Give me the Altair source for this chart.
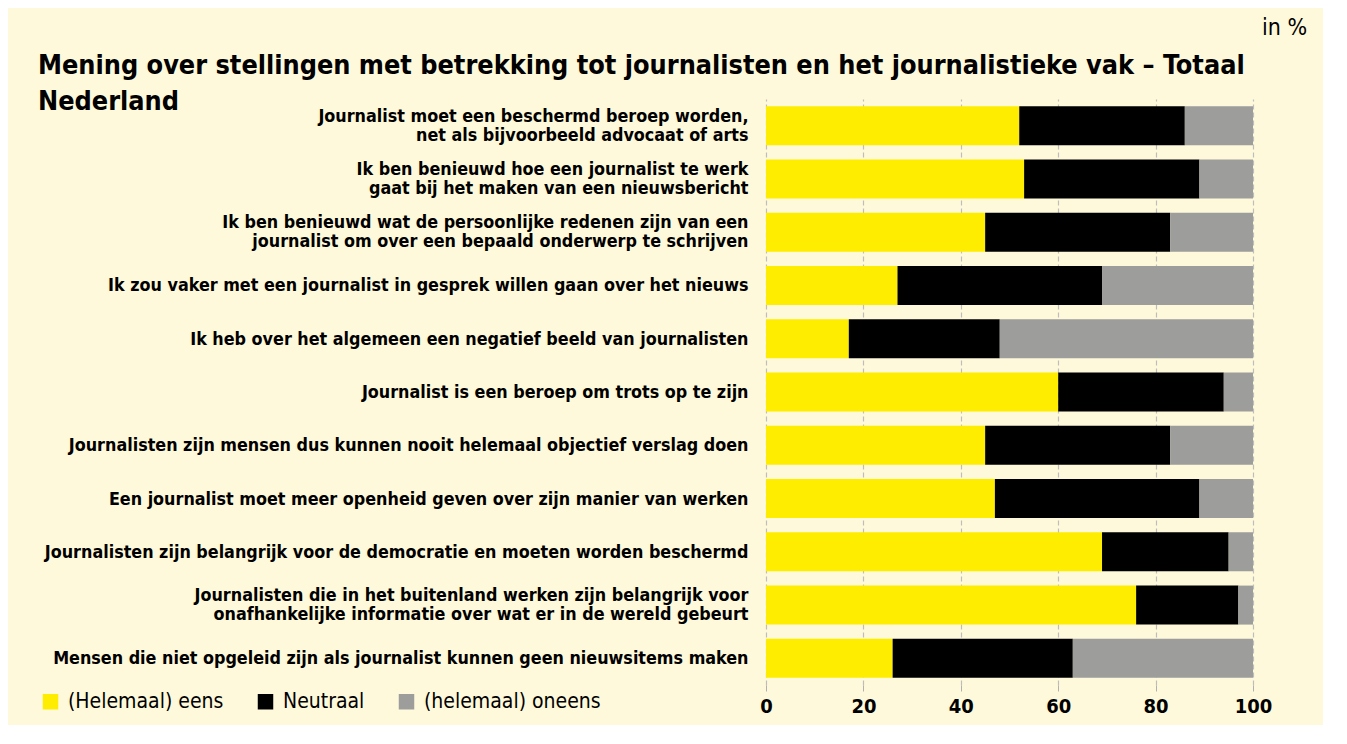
import altair as alt
import pandas as pd

stellingen = [
    "Journalist moet een beschermd beroep worden,|net als bijvoorbeeld advocaat of arts",
    "Ik ben benieuwd hoe een journalist te werk|gaat bij het maken van een nieuwsbericht",
    "Ik ben benieuwd wat de persoonlijke redenen zijn van een|journalist om over een bepaald onderwerp te schrijven",
    "Ik zou vaker met een journalist in gesprek willen gaan over het nieuws",
    "Ik heb over het algemeen een negatief beeld van journalisten",
    "Journalist is een beroep om trots op te zijn",
    "Journalisten zijn mensen dus kunnen nooit helemaal objectief verslag doen",
    "Een journalist moet meer openheid geven over zijn manier van werken",
    "Journalisten zijn belangrijk voor de democratie en moeten worden beschermd",
    "Journalisten die in het buitenland werken zijn belangrijk voor|onafhankelijke informatie over wat er in de wereld gebeurt",
    "Mensen die niet opgeleid zijn als journalist kunnen geen nieuwsitems maken",
]
eens = [52, 53, 45, 27, 17, 60, 45, 47, 69, 76, 26]
neutraal = [34, 36, 38, 42, 31, 34, 38, 42, 26, 21, 37]
oneens = [14, 11, 17, 31, 52, 6, 17, 11, 5, 3, 37]

categorieen = ["(Helemaal) eens", "Neutraal", "(helemaal) oneens"]
kleuren = ["#FFED00", "#000000", "#9D9D9C"]

rows = []
for i, s in enumerate(stellingen):
    for j, (cat, vals) in enumerate(zip(categorieen, [eens, neutraal, oneens])):
        rows.append({"stelling": s, "antwoord": cat, "waarde": vals[i], "volgorde": j})
df = pd.DataFrame(rows)

FONT = "DejaVu Sans Condensed"

bars = alt.Chart(df).mark_bar(size=39).encode(
    x=alt.X(
        "waarde:Q",
        stack="zero",
        scale=alt.Scale(domain=[0, 100], nice=False),
        axis=alt.Axis(
            values=[0, 20, 40, 60, 80, 100],
            title=None,
            grid=True,
            gridColor="#BDBDBD",
            gridDash=[5, 3],
            gridWidth=1.2,
            domain=False,
            ticks=True,
            tickColor="#B0B0B0",
            tickSize=6,
            labelFont=FONT,
            labelFontSize=20,
            labelFontWeight="bold",
            labelColor="#000000",
            labelPadding=5,
            labelFlush=False,
        ),
    ),
    y=alt.Y(
        "stelling:N",
        sort=stellingen,
        scale=alt.Scale(paddingInner=0.27, paddingOuter=0.135),
        axis=alt.Axis(
            title=None,
            domain=False,
            ticks=False,
            labelExpr="split(datum.label, '|')",
            labelOffset=alt.ExprRef("indexof(datum.value, '|') >= 0 ? -9 : 1"),
            labelFont=FONT,
            labelFontSize=17.8,
            labelFontWeight="bold",
            labelColor="#000000",
            labelLineHeight=19,
            labelLimit=900,
            labelPadding=18,
        ),
    ),
    color=alt.Color(
        "antwoord:N",
        sort=categorieen,
        scale=alt.Scale(domain=categorieen, range=kleuren),
        legend=alt.Legend(
            title=None,
            orient="none",
            direction="horizontal",
            legendX=-726,
            legendY=592,
            symbolType="square",
            symbolSize=240,
            symbolStrokeWidth=0,
            labelFont=FONT,
            labelFontSize=21,
            labelColor="#000000",
            labelOffset=7,
            columnPadding=31,
            labelLimit=400,
        ),
    ),
    order=alt.Order("volgorde:Q", sort="ascending"),
)

note = alt.Chart(pd.DataFrame({"t": ["in %"]})).mark_text(
    align="left", baseline="middle", font=FONT, fontSize=23, color="#000000"
).encode(x=alt.value(496), y=alt.value(-71), text="t:N")

chart = alt.layer(bars, note).properties(
    width=487,
    height=586,
    autosize=alt.AutoSizeParams(type="none"),
    padding={"left": 758, "top": 91, "right": 70, "bottom": 40},
    background="#FFF9DB",
    title=alt.TitleParams(
        text=[
            "Mening over stellingen met betrekking tot journalisten en het journalistieke vak \u2013 Totaal",
            "Nederland",
        ],
        anchor="start",
        frame="group",
        font=FONT,
        fontSize=26.8,
        fontWeight="bold",
        color="#000000",
        lineHeight=36,
        dx=-728,
        dy=103,
    ),
).configure_view(stroke=None)

chart.save("out.html", embed_options={"renderer": "svg", "actions": False})
